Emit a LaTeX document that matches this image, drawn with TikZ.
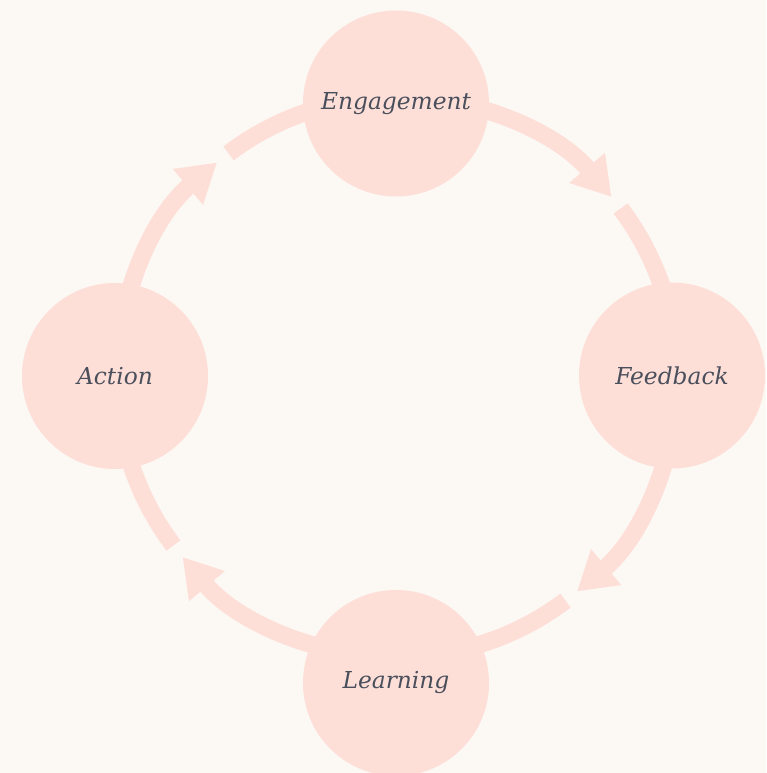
\documentclass[tikz,border=0pt]{standalone}
\usepackage{fontspec}
\setmainfont{DejaVu Serif}
\usetikzlibrary{arrows.meta,calc}

\definecolor{paper}{HTML}{FCF8F4}
\definecolor{blush}{HTML}{FEDFD8}
\definecolor{ink}{HTML}{4A4F5C}

\tikzset{
  stage/.style={circle, fill=blush, minimum size=139.5pt, inner sep=0pt,
    text=ink, font=\itshape\fontsize{17.5}{20}\selectfont},
  cycleline/.style={draw=blush, line width=13pt},
  cyclearrow/.style={cycleline, -{Triangle[length=28.5pt, width=33pt]}},
}

\begin{document}
\begin{tikzpicture}[x=0.75pt, y=0.75pt]
            \useasboundingbox (0,0) rectangle (766,773);
            \clip (0,0) rectangle (766,773);
            \fill [paper] (0,0) rectangle (766,773);
            \coordinate (hub) at (397,396);
            \coordinate (E) at (396,669.5);
            \coordinate (F) at (672,397.5);
            \coordinate (L) at (396,90);
            \coordinate (A) at (115,397);
            % arcs first, the circles sit on top of them
            \draw [cyclearrow] ($(hub)+(90:280)$) arc [start angle=90, delta angle=-50, radius=280];
            \draw [cycleline] ($(hub)+(37:280)$) arc [start angle=37, end angle=0, radius=280];
            \draw [cyclearrow] ($(hub)+(0:280)$) arc [start angle=0, delta angle=-50, radius=280];
            \draw [cycleline] ($(hub)+(-53:280)$) arc [start angle=-53, end angle=-90, radius=280];
            \draw [cyclearrow] ($(hub)+(270:280)$) arc [start angle=270, delta angle=-50, radius=280];
            \draw [cycleline] ($(hub)+(217:280)$) arc [start angle=217, end angle=180, radius=280];
            \draw [cyclearrow] ($(hub)+(180:280)$) arc [start angle=180, delta angle=-50, radius=280];
            \draw [cycleline] ($(hub)+(127:280)$) arc [start angle=127, end angle=90, radius=280];
            \node [stage] (engagement) at (E) {Engagement};
            \node [stage] (feedback)   at (F) {Feedback};
            \node [stage] (learning)   at (L) {Learning};
            \node [stage] (action)     at (A) {Action};
\end{tikzpicture}
\end{document}
